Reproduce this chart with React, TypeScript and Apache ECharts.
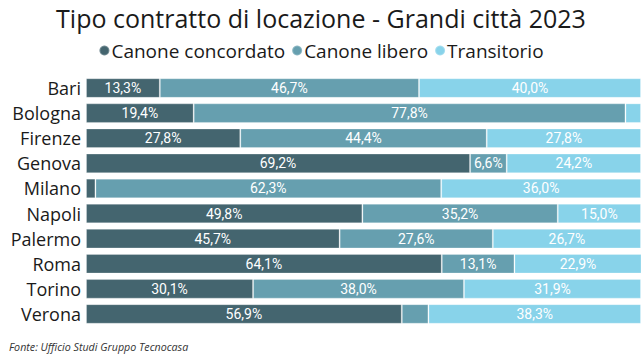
import React, { useEffect, useRef } from "react";
import * as echarts from "echarts";

const cities = ["Bari", "Bologna", "Firenze", "Genova", "Milano", "Napoli", "Palermo", "Roma", "Torino", "Verona"];
const concordato = [13.3, 19.4, 27.8, 69.2, 1.7, 49.8, 45.7, 64.1, 30.1, 56.9];
const libero = [46.7, 77.8, 44.4, 6.6, 62.3, 35.2, 27.6, 13.1, 38.0, 4.8];
const transitorio = [40.0, 2.8, 27.8, 24.2, 36.0, 15.0, 26.7, 22.9, 31.9, 38.3];
const seriesNames = ["Canone concordato", "Canone libero", "Transitorio"];
const colors = ["#44656F", "#669FAF", "#88D3EA"];

export default function App() {
  const ref = useRef<HTMLDivElement>(null);
  useEffect(() => {
    if (!ref.current) return;
    const chart = echarts.init(ref.current, null, { renderer: "svg" });
    const fmt = (p: any) => (p.value < 6 ? "" : p.value.toFixed(1).replace(".", ",") + "%");
    const mk = (name: string, data: number[], i: number) => ({
      name,
      type: "bar",
      stack: "total",
      data,
      barCategoryGap: "22%",
      itemStyle: { color: colors[i], borderColor: "rgba(255,255,255,0.25)", borderWidth: 1 },
      label: {
        show: true,
        position: "inside",
        formatter: fmt,
        color: "#ffffff",
        fontFamily: "Roboto",
        fontSize: 14,
      },
    });
    chart.setOption({
      animation: false,
      title: {
        text: "Tipo contratto di locazione - Grandi città 2023",
        left: "center",
        top: 0,
        textStyle: { fontFamily: "Open Sans", fontWeight: "normal", fontSize: 25, color: "#1a1a1a" },
      },
      legend: {
        top: 36,
        left: "center",
        icon: "circle",
        itemWidth: 10,
        itemHeight: 10,
        itemGap: 6,
        textStyle: { fontFamily: "Open Sans", fontSize: 19, color: "#1a1a1a", padding: [0, 0, 0, -3] },
        data: seriesNames,
      },
      grid: { left: 86, right: 1, top: 75.5, bottom: 31.5, containLabel: false },
      xAxis: { type: "value", min: 0, max: 100, show: false },
      yAxis: {
        type: "category",
        data: cities,
        inverse: true,
        axisLine: { show: false },
        axisTick: { show: false },
        axisLabel: { fontFamily: "Open Sans", fontSize: 18, color: "#1a1a1a", margin: 5 },
      },
      graphic: [
        {
          type: "text",
          left: 9,
          top: 341,
          style: {
            text: "Fonte: Ufficio Studi Gruppo Tecnocasa",
            font: "italic 10.7px 'Open Sans'",
            fill: "#333333",
          },
        },
      ],
      series: [mk(seriesNames[0], concordato, 0), mk(seriesNames[1], libero, 1), mk(seriesNames[2], transitorio, 2)],
    });
    return () => chart.dispose();
  }, []);
  return (
    <div
      ref={ref}
      style={{ position: "fixed", left: 0, top: 0, width: 642, height: 358, background: "#ffffff" }}
    />
  );
}
